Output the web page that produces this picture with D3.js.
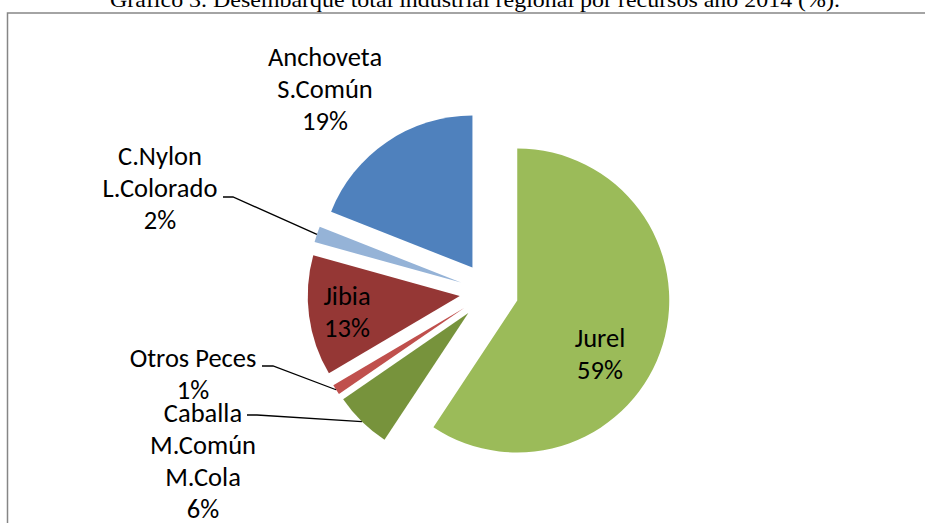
<!DOCTYPE html>
<html>
<head>
<meta charset="utf-8">
<script src="https://cdn.jsdelivr.net/npm/d3@7"></script>
<style>
  html, body { margin: 0; padding: 0; background: #ffffff; }
  svg { display: block; }
</style>
</head>
<body>
<svg id="chart" width="925" height="523"></svg>
<script>
// ---- data ----
const categories = ["Jurel", "Caballa\nM.Común\nM.Cola", "Otros Peces", "Jibia", "C.Nylon\nL.Colorado", "Anchoveta\nS.Común"];
const values = [59.3, 6.1, 1.1, 12.8, 1.7, 19.0];
const colors = ["#9BBB59", "#77933C", "#C0504D", "#953735", "#95B3D7", "#4F81BD"];
const title = "Gráfico 3. Desembarque total industrial regional por recursos año 2014 (%).";

// ---- layout (positions of label text, not data) ----
const labelLayout = [
  { x: 600, y: 347, leader: null },
  { x: 203, y: 422, leader: [247, 415, 257] },
  { x: 193, y: 367, leader: [262, 366, 273] },
  { x: 347, y: 305, leader: null },
  { x: 160, y: 165, leader: [223, 197, 233] },
  { x: 325, y: 66,  leader: null }
];

const W = 925, H = 523;
const cx = 489, cy = 292, R = 152, explode = 29.5;
const lineGap = 32;
const labelFont = "Carlito, Calibri, Lato, sans-serif";

const svg = d3.select("#chart");

// title (partially cut off at the top like the reference)
svg.append("text")
  .attr("x", 475).attr("y", 7)
  .attr("text-anchor", "middle")
  .attr("font-family", "'Liberation Serif', 'Times New Roman', serif")
  .attr("font-size", 21)
  .attr("textLength", 730)
  .attr("lengthAdjust", "spacingAndGlyphs")
  .attr("fill", "#000")
  .text(title);

// chart frame
svg.append("path")
  .attr("d", `M7.5,${H + 5} L7.5,13 L${W + 5},13`)
  .attr("fill", "none")
  .attr("stroke", "#868686")
  .attr("stroke-width", 1.5);

const pie = d3.pie().sort(null).value(d => d).startAngle(0).endAngle(2 * Math.PI);
const arcs = pie(values);
const arc = d3.arc().innerRadius(0).outerRadius(R);

const g = svg.append("g").attr("transform", `translate(${cx},${cy})`);

function offset(d) {
  const a = (d.startAngle + d.endAngle) / 2;
  return [Math.sin(a) * explode, -Math.cos(a) * explode];
}

g.selectAll("path.slice")
  .data(arcs)
  .join("path")
  .attr("class", "slice")
  .attr("transform", d => { const o = offset(d); return `translate(${o[0]},${o[1]})`; })
  .attr("d", arc)
  .attr("fill", (d, i) => colors[i]);

// leader lines
arcs.forEach((d, i) => {
  const L = labelLayout[i];
  if (!L.leader) return;
  const a = (d.startAngle + d.endAngle) / 2;
  const o = offset(d);
  const ex = cx + o[0] + Math.sin(a) * R;
  const ey = cy + o[1] - Math.cos(a) * R;
  const [x0, y0, x1] = L.leader;
  svg.append("path")
    .attr("d", `M${x0},${y0} L${x1},${y0} L${ex},${ey}`)
    .attr("fill", "none")
    .attr("stroke", "#000")
    .attr("stroke-width", 1.3);
});

// labels
arcs.forEach((d, i) => {
  const L = labelLayout[i];
  const lines = categories[i].split("\n").concat([Math.round(values[i]) + "%"]);
  const t = svg.append("text")
    .attr("text-anchor", "middle")
    .attr("font-family", labelFont)
    .attr("font-size", 26.5)
    .attr("fill", "#000");
  lines.forEach((ln, k) => {
    t.append("tspan").attr("x", L.x).attr("y", L.y + k * lineGap).text(ln);
  });
});
</script>
</body>
</html>
